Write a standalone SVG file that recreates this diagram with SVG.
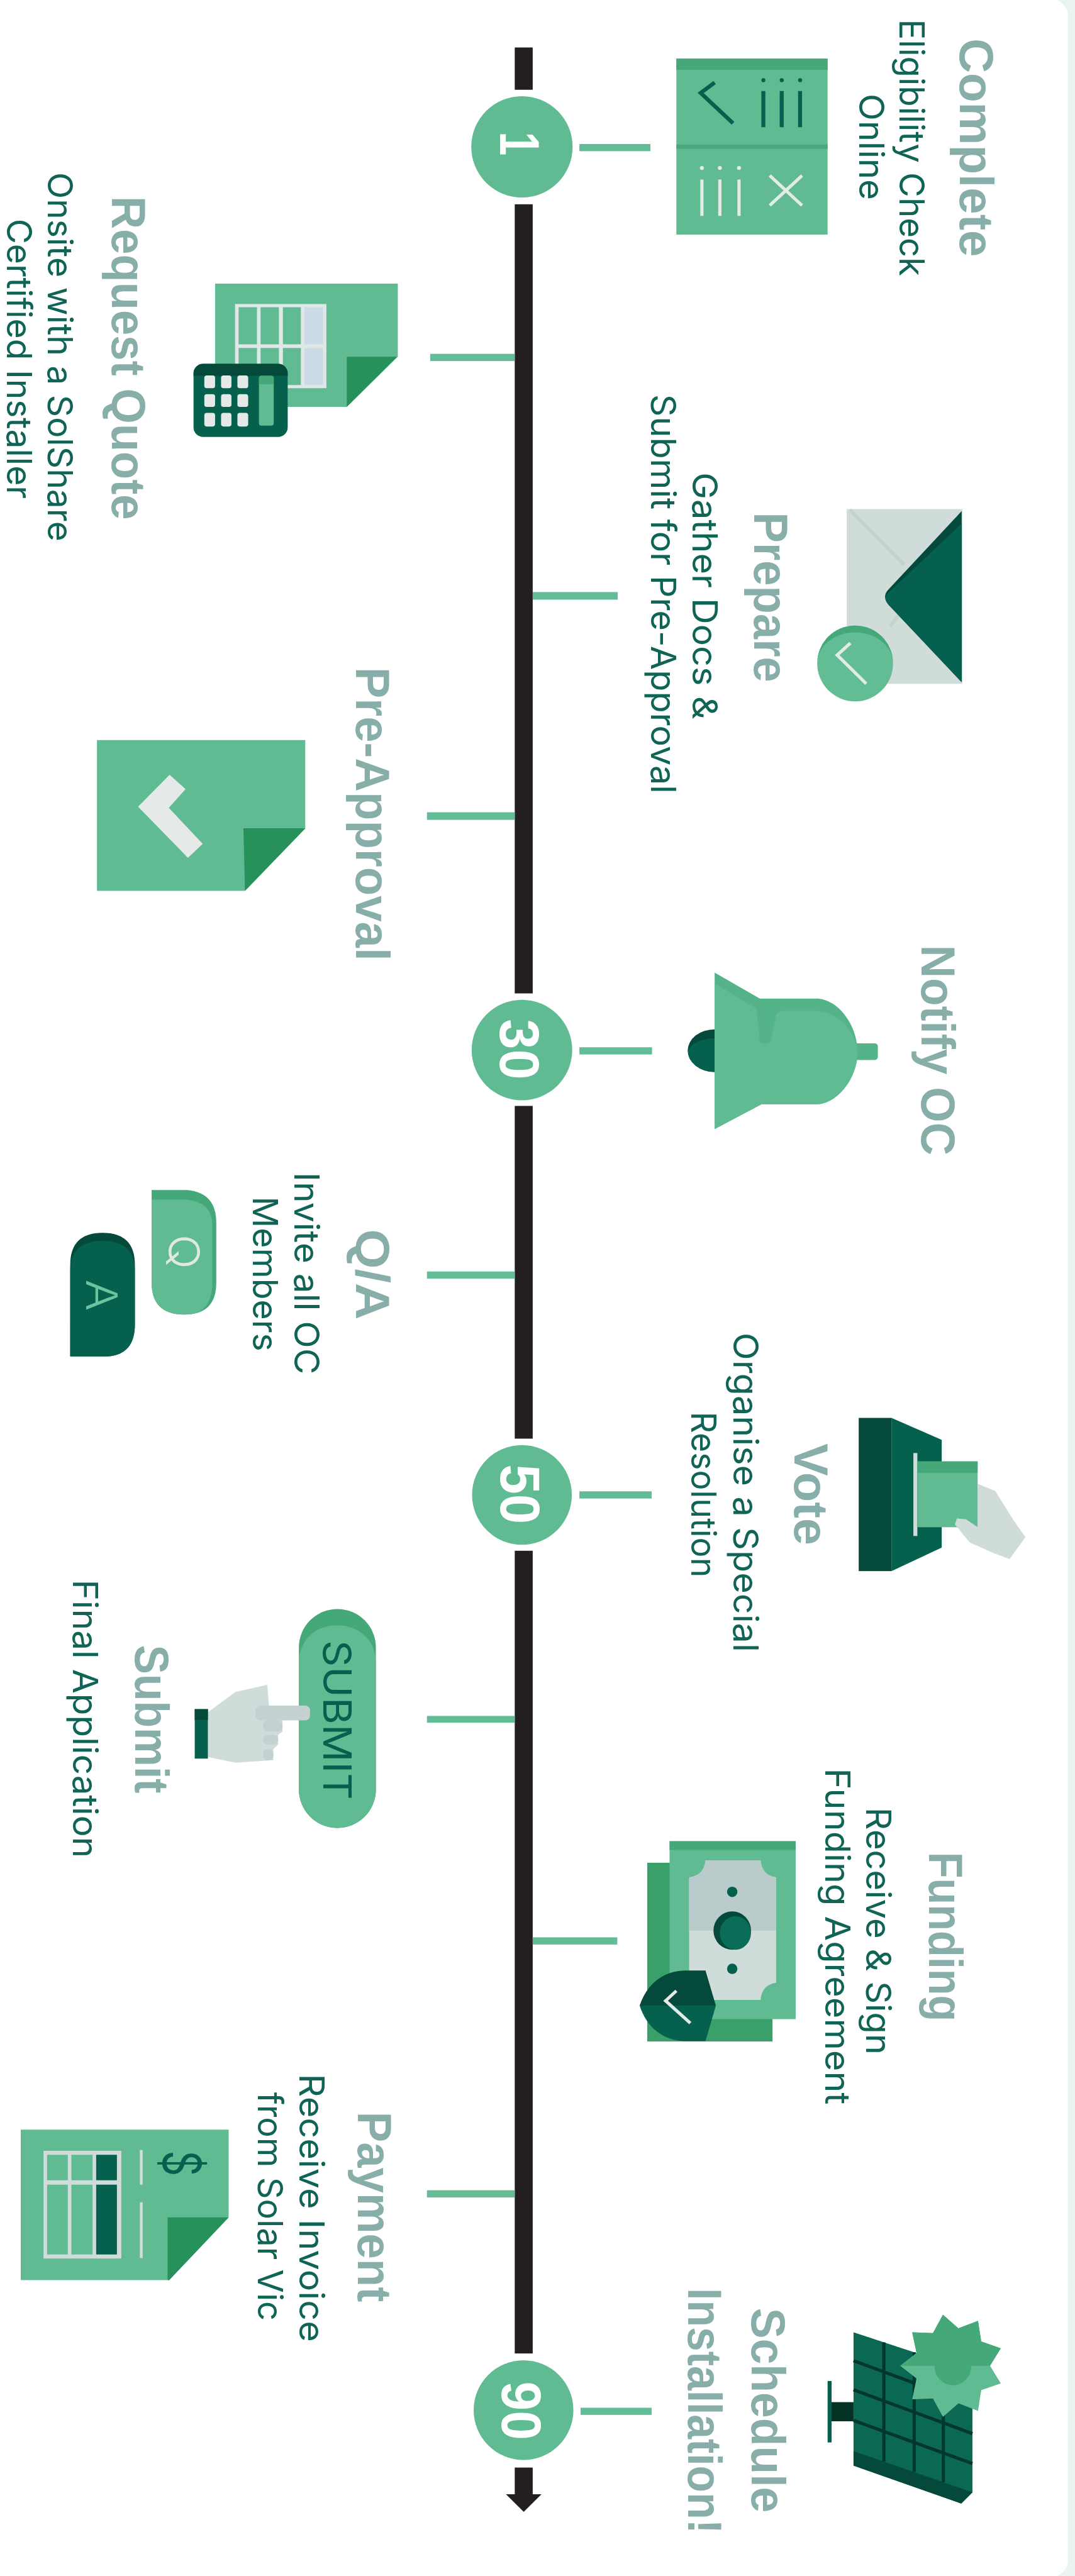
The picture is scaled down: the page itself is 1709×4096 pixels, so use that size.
<svg xmlns="http://www.w3.org/2000/svg" width="1709" height="4096" viewBox="0 0 1709 4096">
<style>
text{font-family:"Inter","Liberation Sans",sans-serif}
.h{font-size:120px;font-weight:700;fill:#88aeaa;font-family:"Liberation Sans",sans-serif}
.b{font-size:86px;font-weight:400;fill:#0f6455}
.n{font-size:140px;font-weight:700;fill:#fff;font-family:"Liberation Sans",sans-serif}
.g{fill:#60bb93}.m{fill:#45a878}.f{fill:#26915a}.d{fill:#05604e}.k{fill:#04493a}.l{fill:#cfdcda}.w{fill:#e5eae8}
.t{fill:#c3d2d0}
.bar{fill:#231f20}
.c{fill:#62bc96}
.sw{fill:none;stroke:#e2ebe6;stroke-width:8}
.sd{fill:none;stroke:#05604e;stroke-width:10}
</style>
<rect width="1709" height="4096" fill="#e9f3f1"/>
<g transform="scale(0.63437)">
<rect x="-100" y="-2" width="2776" height="6461" rx="40" fill="#fff"/>

<g id="connectors">
<rect class="bar" x="1290" y="119" width="45" height="106"/>
<rect class="bar" x="1290" y="512" width="45" height="1978"/>
<rect class="bar" x="1290" y="2772" width="45" height="834"/>
<rect class="bar" x="1290" y="3887" width="45" height="2012"/>
<rect class="bar" x="1290" y="6185" width="45" height="67"/>
<path class="bar" d="M1268 6252H1357L1312.500 6296Z"/>
<rect class="c" x="1452" y="361" width="178" height="18"/>
<rect class="c" x="1078" y="887" width="212" height="18"/>
<rect class="c" x="1335" y="1484" width="213" height="19"/>
<rect class="c" x="1070" y="2036" width="220" height="19"/>
<rect class="c" x="1452" y="2625" width="182" height="18"/>
<rect class="c" x="1070" y="3187" width="220" height="18"/>
<rect class="c" x="1452" y="3738" width="181" height="18"/>
<rect class="c" x="1070" y="4301" width="220" height="17"/>
<rect class="c" x="1335" y="4856" width="212" height="18"/>
<rect class="c" x="1070" y="5490" width="220" height="18"/>
<rect class="c" x="1455" y="6035" width="178" height="18"/>
</g>

<g id="marker-1"><circle class="g" cx="1308" cy="368" r="127"/>
<text class="n" transform="translate(1254 330) rotate(90)" textLength="60" lengthAdjust="spacingAndGlyphs">1</text></g>
<g id="marker-30"><circle class="g" cx="1308" cy="2632" r="126"/>
<text class="n" transform="translate(1254 2554) rotate(90)" textLength="152" lengthAdjust="spacingAndGlyphs">30</text></g>
<g id="marker-50"><circle class="g" cx="1308" cy="3747" r="125"/>
<text class="n" transform="translate(1255 3670) rotate(90)" textLength="150" lengthAdjust="spacingAndGlyphs">50</text></g>
<g id="marker-90"><circle class="g" cx="1312" cy="6041" r="125"/>
<text class="n" transform="translate(1258 5969) rotate(90)" textLength="147" lengthAdjust="spacingAndGlyphs">90</text></g>

<g id="complete">
<rect class="g" x="1695" y="147" width="379" height="441"/>
<rect class="m" x="1695" y="147" width="379" height="28"/>
<rect fill="#4aa87d" x="1695" y="362" width="379" height="11"/>
<path class="sd" d="M1791 207L1756 233L1837 309"/>
<path class="sd" d="M1913 228V319M1959 228V319M2005 228V319"/>
<circle class="d" cx="1913" cy="201" r="5"/><circle class="d" cx="1959" cy="201" r="5"/><circle class="d" cx="2005" cy="201" r="5"/>
<path class="sw" d="M1759 450V541M1804 450V541M1852 450V541M1929 440L2010 515M2010 440L1929 515"/>
<circle class="w" cx="1759" cy="421" r="5"/><circle class="w" cx="1804" cy="421" r="5"/><circle class="w" cx="1852" cy="421" r="5"/>
<text class="h" transform="translate(2406 96) rotate(90)" textLength="548" lengthAdjust="spacingAndGlyphs">Complete</text>
<text class="b" transform="translate(2254 48) rotate(90)" textLength="644" lengthAdjust="spacingAndGlyphs">Eligibility Check</text>
<text class="b" transform="translate(2153 235) rotate(90)" textLength="266" lengthAdjust="spacingAndGlyphs">Online</text>
</g>

<g id="request-quote">
<path class="g" d="M539 711H997V894L869 1020H539Z"/>
<path class="f" d="M869 894H995L869 1020Z"/>
<rect fill="#dfe8e6" x="589" y="762" width="229" height="211"/>
<path class="g" d="M598 770h46v93h-46zM653 770h46v93h-46zM709 770h45v93h-45zM598 872h46v93h-46zM653 872h46v93h-46zM709 872h45v93h-45z"/>
<path fill="#cddbe6" d="M763 770h47v93h-47zM763 872h47v93h-47z"/>
<rect class="d" x="485" y="912" width="236" height="183" rx="24"/>
<path class="k" d="M485 942V936A24 24 0 0 1 509 912H697A24 24 0 0 1 721 936V942Z"/>
<g class="w"><rect x="512" y="941" width="27" height="32" rx="6"/><rect x="554" y="941" width="26" height="32" rx="6"/><rect x="595" y="941" width="27" height="32" rx="6"/><rect x="512" y="988" width="27" height="32" rx="6"/><rect x="554" y="988" width="26" height="32" rx="6"/><rect x="595" y="988" width="27" height="32" rx="6"/><rect x="512" y="1035" width="27" height="34" rx="6"/><rect x="554" y="1035" width="26" height="34" rx="6"/><rect x="595" y="1035" width="27" height="34" rx="6"/></g>
<rect class="g" x="649" y="942" width="37" height="125" rx="6"/>
<path class="m" d="M649 963V948A6 6 0 0 1 655 942H680A6 6 0 0 1 686 948V963Z"/>
<text class="h" transform="translate(280 492) rotate(90)" textLength="811" lengthAdjust="spacingAndGlyphs">Request Quote</text>
<text class="b" transform="translate(120 432) rotate(90)" textLength="925" lengthAdjust="spacingAndGlyphs">Onsite with a SolShare</text>
<text class="b" transform="translate(17 548) rotate(90)" textLength="702" lengthAdjust="spacingAndGlyphs">Certified Installer</text>
</g>

<g id="prepare">
<rect class="l" x="2122" y="1276" width="290" height="438"/>
<path d="M2130 1278L2265 1415M2230 1570L2265 1525" fill="none" stroke="#c3d3d0" stroke-width="9"/>
<path class="k" d="M2410 1281V1710L2227 1516Q2209 1495 2227 1477Z"/>
<path class="d" d="M2410 1312V1710L2227 1516Q2215 1503 2221 1491Z"/>
<circle fill="#62bd95" cx="2143" cy="1663" r="95"/>
<path class="m" d="M2048 1663A95 95 0 0 1 2238 1663A95 78 0 0 0 2048 1663Z"/>
<path class="sw" d="M2131 1612L2098 1642L2171 1714"/>
<text class="h" transform="translate(1890 1284) rotate(90)" textLength="426" lengthAdjust="spacingAndGlyphs">Prepare</text>
<text class="b" transform="translate(1735 1184) rotate(90)" textLength="619" lengthAdjust="spacingAndGlyphs">Gather Docs &amp;</text>
<text class="b" transform="translate(1631 988) rotate(90)" textLength="1001" lengthAdjust="spacingAndGlyphs">Submit for Pre-Approval</text>
</g>

<g id="pre-approval">
<path class="g" d="M243 1855H765V2077L614 2233H243Z"/>
<path class="f" d="M610 2076H765L614 2233Z"/>
<path class="w" d="M346 2022L425 1942L465 1978L423 2025L508 2115L471 2150Z"/>
<text class="h" transform="translate(892 1672) rotate(90)" textLength="736" lengthAdjust="spacingAndGlyphs">Pre-Approval</text>
</g>

<g id="notify-oc">
<path class="k" d="M1791 2580A67 53 0 0 0 1791 2687Z"/>
<path class="d" d="M1791 2603A67 42 0 0 0 1724 2633A67 53 0 0 0 1791 2687Z"/>
<rect fill="#55b38a" x="2140" y="2615" width="60" height="42" rx="8"/>
<path fill="#55b38a" d="M1791 2438L1904 2503H2045C2100 2503 2149 2570 2149 2635C2149 2700 2100 2768 2045 2768H1908L1791 2830Z"/>
<path class="g" d="M1791 2465L1896 2528L1904 2612L1919 2617L1931 2612L1946 2541L1961 2534H2045C2100 2534 2149 2590 2149 2640C2149 2700 2100 2768 2045 2768H1908L1791 2830Z"/>
<text class="h" transform="translate(2309 2369) rotate(90)" textLength="527" lengthAdjust="spacingAndGlyphs">Notify OC</text>
</g>

<g id="qa">
<path class="m" d="M380 2983H470Q542 2990 542 3065V3215Q542 3295 462 3295Q380 3295 380 3215Z"/>
<path class="g" d="M380 3007H465Q532 3012 532 3070V3215Q532 3295 462 3295Q380 3295 380 3215Z"/>
<text transform="translate(423 3094) rotate(90)" font-size="108" font-weight="300" fill="#dfe9e2" textLength="87" lengthAdjust="spacingAndGlyphs">Q</text>
<path class="k" d="M176 3400V3170Q176 3090 257 3090Q338 3090 338 3170V3320Q338 3395 270 3400Z"/>
<path class="d" d="M176 3400V3185Q176 3110 257 3110Q338 3110 338 3185V3320Q338 3395 270 3400Z"/>
<text transform="translate(216 3207) rotate(90)" font-size="108" font-weight="300" fill="#6cc39d" textLength="79" lengthAdjust="spacingAndGlyphs">A</text>
<text class="h" transform="translate(892 3081) rotate(90)" textLength="227" lengthAdjust="spacingAndGlyphs">Q/A</text>
<text class="b" transform="translate(738 2938) rotate(90)" textLength="507" lengthAdjust="spacingAndGlyphs">Invite all OC</text>
<text class="b" transform="translate(633 2999) rotate(90)" textLength="388" lengthAdjust="spacingAndGlyphs">Members</text>
</g>

<g id="vote">
<rect class="k" x="2152" y="3554" width="82" height="384"/>
<path class="d" d="M2234 3554L2360 3609V3879L2234 3938Z"/>
<rect class="l" x="2289" y="3642" width="10" height="208"/>
<rect class="g" x="2299" y="3663" width="151" height="165"/>
<rect class="m" x="2299" y="3663" width="151" height="29"/>
<path class="l" d="M2450 3719L2494 3737L2541 3812L2570 3853L2530 3908L2485 3891L2430 3866L2393 3821L2398 3806L2421 3808L2450 3828Z"/>
<text class="h" transform="translate(1991 3618) rotate(90)" textLength="255" lengthAdjust="spacingAndGlyphs">Vote</text>
<text class="b" transform="translate(1838 3340) rotate(90)" textLength="801" lengthAdjust="spacingAndGlyphs">Organise a Special</text>
<text class="b" transform="translate(1732 3538) rotate(90)" textLength="416" lengthAdjust="spacingAndGlyphs">Resolution</text>
</g>

<g id="submit">
<rect class="m" x="749" y="4033" width="193" height="549" rx="96.500"/>
<path class="g" d="M749 4170C749 4110 790 4074 845 4074C900 4074 942 4110 942 4170V4485A96.500 96.500 0 0 1 749 4485Z"/>
<text transform="translate(810 4111) rotate(90)" font-size="97" fill="#05604e" textLength="400" lengthAdjust="spacingAndGlyphs">SUBMIT</text>
<path class="l" d="M521 4292L590 4241L670 4223L674 4276H700L708 4312L708 4340L697 4348L697 4373L685 4384L685 4412L590 4418L521 4404Z"/>
<rect class="t" x="640" y="4275" width="137" height="37" rx="12"/>
<rect class="t" x="659" y="4312" width="49" height="28" rx="12"/>
<rect class="t" x="659" y="4348" width="38" height="25" rx="12"/>
<rect class="t" x="659" y="4384" width="26" height="28" rx="12"/>
<rect class="d" x="488" y="4284" width="33" height="124"/>
<rect class="k" x="488" y="4284" width="33" height="27"/>
<text class="h" transform="translate(339 4123) rotate(90)" textLength="372" lengthAdjust="spacingAndGlyphs">Submit</text>
<text class="b" transform="translate(183 3959) rotate(90)" textLength="698" lengthAdjust="spacingAndGlyphs">Final Application</text>
</g>

<g id="funding">
<rect fill="#38a068" x="1622" y="4669" width="314" height="448"/>
<rect class="g" x="1678" y="4615" width="316" height="446"/>
<rect class="m" x="1678" y="4615" width="316" height="22"/>
<path class="l" d="M1727 4706Q1765 4700 1768 4663H1906Q1909 4700 1945 4706V4970Q1909 4975 1906 5013H1768Q1765 4975 1727 4970Z"/>
<path fill="#b9cbcb" d="M1727 4706Q1765 4700 1768 4663H1906Q1909 4700 1945 4706V4839H1727Z"/>
<ellipse class="k" cx="1835" cy="4839" rx="47" ry="48"/>
<ellipse fill="#0a6d58" cx="1843" cy="4845" rx="39" ry="42"/>
<circle class="d" cx="1835" cy="4742" r="13"/><circle class="d" cx="1835" cy="4935" r="13"/>
<path class="k" d="M1603 5027C1620 4975 1660 4939 1720 4939H1768L1794 5027Z"/>
<path class="d" d="M1603 5027H1794L1768 5116H1720C1660 5116 1620 5080 1603 5027Z"/>
<path class="sw" d="M1695 4990L1668 5015L1730 5071"/>
<text class="h" transform="translate(2328 4642) rotate(90)" textLength="425" lengthAdjust="spacingAndGlyphs">Funding</text>
<text class="b" transform="translate(2171 4530) rotate(90)" textLength="620" lengthAdjust="spacingAndGlyphs">Receive &amp; Sign</text>
<text class="b" transform="translate(2068 4432) rotate(90)" textLength="843" lengthAdjust="spacingAndGlyphs">Funding Agreement</text>
</g>

<g id="payment">
<path class="g" d="M52 5338H573V5558L424 5715H52Z"/>
<path class="f" d="M420 5558H573L424 5715H420Z"/>
<rect class="l" x="109" y="5391" width="195" height="270"/>
<path class="g" d="M118 5401h52v64h-52zM179 5401h53v64h-53zM118 5476h52v175h-52zM179 5476h53v175h-53z"/>
<path class="d" d="M241 5401h52v64h-52zM241 5476h52v175h-52z"/>
<path fill="none" stroke="#cfdcda" stroke-width="7" d="M354 5389V5476M354 5520V5660"/>
<text transform="translate(408 5390) rotate(90)" font-size="132" font-weight="400" fill="#05604e" textLength="65" lengthAdjust="spacingAndGlyphs">$</text>
<text class="h" transform="translate(897 5293) rotate(90)" textLength="477" lengthAdjust="spacingAndGlyphs">Payment</text>
<text class="b" transform="translate(750 5198) rotate(90)" textLength="672" lengthAdjust="spacingAndGlyphs">Receive Invoice</text>
<text class="b" transform="translate(647 5244) rotate(90)" textLength="573" lengthAdjust="spacingAndGlyphs">from Solar Vic</text>
</g>

<g id="schedule-installation">
<rect fill="#043325" x="2084" y="6021" width="55" height="48"/>
<rect class="d" x="2074" y="5968" width="10" height="154"/>
<path fill="#0a6853" d="M2139 5846L2437 5944V6247L2409 6275L2139 6180Z"/>
<path class="k" d="M2139 6144L2437 6247L2409 6275L2139 6180Z"/>
<path fill="none" stroke="#04372c" stroke-width="8" d="M2215 5871V6170M2291 5896V6196M2364 5920V6222M2139 5917L2437 6027M2139 5990L2437 6100M2139 6067L2437 6175"/>
<path class="g" d="M2256 5930L2297 5962L2286 6014L2338 6012L2363 6058L2402 6024L2451 6043L2459 5991L2508 5974L2481 5930L2508 5886L2459 5869L2451 5817L2402 5836L2363 5802L2338 5848L2286 5846L2297 5898Z"/>
<path class="m" d="M2256 5930L2297 5898L2286 5846L2338 5848L2363 5802L2402 5836L2451 5817L2459 5869L2508 5886L2481 5930Z"/>
<ellipse class="m" cx="2388" cy="5931" rx="46" ry="48"/>
<text class="h" transform="translate(1883 5785) rotate(90)" textLength="513" lengthAdjust="spacingAndGlyphs">Schedule</text>
<text class="h" transform="translate(1725 5735) rotate(90)" textLength="616" lengthAdjust="spacingAndGlyphs">Installation!</text>
</g>
</g>
</svg>
